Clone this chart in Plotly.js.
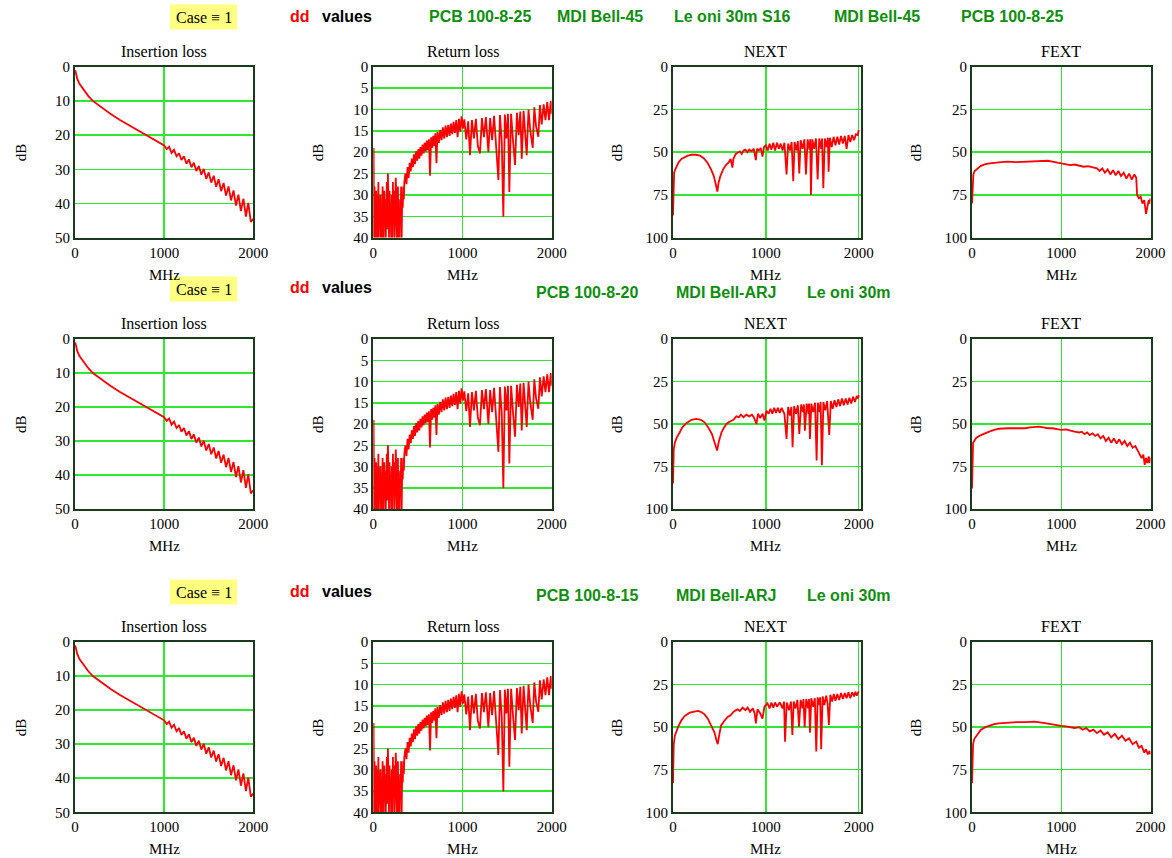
<!DOCTYPE html>
<html>
<head>
<meta charset="utf-8">
<script src="https://cdn.plot.ly/plotly-3.0.1.min.js"></script>
<style>html,body{margin:0;padding:0;background:#fff;}#chart{width:1172px;height:858px;}</style>
</head>
<body>
<div id="chart"></div>
<script>
// ---------------- DATA ----------------
const plotTitles = ['Insertion loss', 'Return loss', 'NEXT', 'FEXT'];
const yTickVals = {
  il: [0, 10, 20, 30, 40, 50],
  rl: [0, 5, 10, 15, 20, 25, 30, 35, 40],
  xt: [0, 25, 50, 75, 100]
};
const xTickVals = [0, 1000, 2000];

const rowHeaders = [
  ['PCB 100-8-25', 'MDI Bell-45', 'Le oni 30m S16', 'MDI Bell-45', 'PCB 100-8-25'],
  ['PCB 100-8-20', 'MDI Bell-ARJ', 'Le oni 30m'],
  ['PCB 100-8-15', 'MDI Bell-ARJ', 'Le oni 30m']
];

// Insertion loss (same shape in all three rows)
const ilMHz = [3,10,25,50,75,100,150,200,250,300,400,500,600,700,800,900,
  1000,1028,1056,1083,1111,1139,1167,1194,1222,1250,1278,1306,1333,1361,1389,1417,1444,1472,1500,
  1528,1556,1583,1611,1639,1667,1694,1722,1750,1778,1806,1833,1861,1889,1917,1944,1972,2000];
const ilDb = [1,2,3.5,5,6,7,8.6,10,11,12,13.8,15.5,17,18.5,20,21.5,
  23.0,24.1,23.4,25.2,24.3,26.2,25.3,27.3,26.2,28.4,27.1,29.4,28.1,30.5,29.0,31.6,29.9,32.8,30.9,
  33.9,31.9,35.1,32.9,36.4,34.0,37.7,35.0,39.1,36.2,40.6,37.4,42.2,38.6,43.8,39.8,45.4,44.5];

// Return loss (same shape in all three rows) [MHz, dB]
const rlPoints = [
  [0,40],[3,19],[6,33],[10,40],[14,28],[18,38],[22,31],[27,40],[32,29],[37,34],[42,40],[47,30],
  [52,36],[57,27],[62,40],[68,32],[74,38],[80,30],[86,40],[92,35],[98,40],[104,28],[110,34],[116,40],
  [122,29],[128,35],[134,31],[140,40],[146,33],[152,27],[158,38],[164,25],[170,31],[176,40],[182,29],
  [188,37],[194,32],[200,40],[207,30],[214,40],[220,27],[226,36],[232,29],[238,40],[245,34],[252,26],
  [258,31],[264,40],[270,33],[276,28],[282,40],[288,35],[294,40],[300,31],[306,36],[312,28],[318,40],
  [324,30],[330,33],[336,28],[342,31],[348,27],
  [360,25.0],[372,27.5],[384,23.5],[396,26.0],[408,22.5],[420,24.5],[432,21.5],[444,23.5],[456,20.5],
  [468,22.8],[480,19.8],[492,22.0],[504,19.3],[516,21.5],[528,18.8],[540,20.8],[552,18.2],[564,20.3],
  [576,17.8],[588,19.8],[600,17.3],[612,19.5],[624,17.0],[636,25.5],[648,16.5],[660,19.0],[672,16.2],
  [684,18.5],[696,15.6],[708,22.6],[720,15.3],[735,17.8],[750,14.8],[765,17.2],[780,14.2],[795,16.8],
  [810,13.8],[825,16.5],[840,13.6],[855,16.2],[870,13.3],[885,15.8],[900,12.9],[915,15.5],[930,12.5],
  [945,16.5],[960,12.2],[975,15.2],[990,11.6],[1005,14.5],
  [1020,12.3],[1042,17.0],[1064,12.8],[1084,20.7],[1106,12.5],[1128,16.8],[1150,12.2],[1172,18.5],
  [1196,20.3],[1218,12.0],[1240,16.5],[1262,11.8],[1290,20.0],[1310,12.0],[1332,17.2],[1354,11.5],
  [1376,19.0],[1402,26.5],[1420,11.3],[1440,17.5],[1458,35.1],[1475,11.2],[1492,16.8],[1510,11.0],
  [1525,29.3],[1545,11.0],[1567,17.5],[1589,23.0],[1610,10.8],[1630,16.0],[1648,10.5],[1664,21.5],
  [1685,10.3],[1705,15.8],[1720,20.7],[1740,10.0],[1760,15.0],[1787,19.0],[1805,9.5],[1825,14.0],
  [1850,16.4],[1868,9.0],[1888,13.5],[1910,8.8],[1930,12.5],[1950,8.3],[1970,12.5],[1990,8.0],[2000,11.0]
];

// NEXT [MHz, dB]
const next1Points = [
  [0,87],[3,70],[6,65],[12,62],[25,60],[40,58],[60,56],[90,54],[120,53],[160,52],[200,51.5],[245,51.5],
  [290,52],[330,53.5],[370,56],[410,60],[440,64],[465,70],[478,73],[490,68],[510,64],[540,60],[570,57.5],
  [600,56],[620,54],[640,59],[650,54],[676,51],[700,50],[720,49.5],[740,51],[760,49],[780,48.5],[800,50],
  [820,48.5],[845,49.5],[870,48],[892,54.6],[905,48],[925,49],[945,47.5],[964,52.6],[980,47],[1000,46],
  [1020,49],[1040,45],[1060,48.5],[1080,44.5],[1100,49],[1120,44.5],[1140,48],[1160,45],[1180,49],
  [1200,44.5],[1223,63],[1240,45],[1260,49],[1278,44],[1295,67],[1310,44],[1330,49],[1345,43.5],
  [1360,62.4],[1375,43],[1395,48],[1415,42.5],[1432,63],[1450,42.5],[1470,48.5],[1478,42.5],[1486,75],
  [1500,42.5],[1520,48],[1540,42],[1558,66],[1575,42],[1595,48],[1605,42],[1619,71],[1635,42],[1655,47],
  [1668,41.5],[1676,61.4],[1690,41.5],[1710,47],[1730,41],[1750,46],[1770,41],[1790,45.5],[1810,40.5],
  [1830,45],[1850,40.5],[1870,48],[1890,40],[1910,44],[1930,40],[1950,43],[1970,39.5],[1990,40],[2000,37]
];
const next2Points = [
  [0,85],[3,72],[8,65],[20,61],[40,58],[72,55],[100,52],[144,49.5],[200,47.5],[252,47],[300,47.5],
  [340,49],[380,52],[420,56],[450,61],[475,65.6],[495,60],[522,55],[550,52],[576,50],[600,49],[630,48],
  [650,47.5],[683,45.5],[710,46],[730,44.5],[760,46],[791,44.5],[820,45.5],[850,44.5],[870,46],[899,50],
  [915,44],[940,46.5],[965,44],[985,48],[1007,42.2],[1030,44],[1050,41],[1070,44],[1090,40.5],[1110,43.5],
  [1130,40.5],[1150,43.5],[1170,40.5],[1200,44],[1223,58.8],[1240,40],[1260,45],[1275,40],[1288,63.6],
  [1305,39.5],[1325,44],[1345,39],[1360,55.8],[1380,38.5],[1400,43],[1410,38.5],[1421,53.9],[1440,38],
  [1460,44],[1465,38],[1475,58.8],[1490,38],[1510,43],[1530,37.5],[1547,71.4],[1560,37.5],[1580,43],
  [1590,37],[1604,74.3],[1620,37],[1640,42],[1660,36.5],[1683,56.4],[1700,36.5],[1720,41],[1740,36],
  [1760,40],[1780,35.5],[1800,39.5],[1820,35],[1840,39],[1860,35],[1880,38.5],[1900,34.5],[1920,38],
  [1940,34],[1960,37],[1980,33.5],[1995,35],[2000,33]
];
const next3Points = [
  [0,83],[3,68],[8,60],[20,55],[54,50],[90,46],[125,43.5],[180,41.5],[230,41],[268,40.5],[300,41],
  [340,42.5],[375,45],[410,48.5],[446,53],[470,58],[482,60],[500,54],[518,49],[550,46.5],[589,44],
  [620,43],[650,41],[680,40],[696,39.5],[720,40.5],[750,38.5],[780,40],[804,38.5],[830,41],[860,39],
  [880,42],[893,47.8],[910,39.5],[940,42],[964,45],[985,38],[1000,37],[1018,36],[1040,39],[1060,35.5],
  [1080,38.5],[1100,35.5],[1120,38],[1150,35.5],[1180,39],[1196,35],[1207,58.5],[1225,35.5],[1250,40],
  [1270,35],[1286,54.6],[1300,35],[1320,39],[1340,34],[1357,49.7],[1375,34],[1395,39],[1405,33.5],
  [1418,50],[1435,33.5],[1455,39],[1465,33.5],[1475,53.2],[1490,33],[1510,38],[1528,33],[1543,64.3],
  [1558,32.5],[1575,37],[1585,32.5],[1596,62.9],[1612,32],[1630,37],[1650,31.5],[1665,36],[1679,48.7],
  [1695,31],[1715,35],[1732,30.5],[1750,34.5],[1770,30.5],[1790,34],[1810,30],[1830,33.5],[1850,30],
  [1870,33],[1890,29.5],[1910,33],[1930,29.5],[1950,32],[1964,29.2],[1980,31.5],[2000,29]
];

// FEXT [MHz, dB]
const fext1Points = [
  [0,80],[4,70],[8,64],[15,63],[30,61],[60,59.5],[100,58],[150,57],[200,56.5],[300,56],[400,55.5],
  [500,55.8],[600,55.6],[700,55.5],[800,55.3],[850,55],[900,55.5],[950,56],[1000,56.5],[1050,57],
  [1100,57.5],[1150,57.2],[1200,58],[1250,58.5],[1300,58.2],[1350,59],[1400,59.5],[1430,61],[1460,59.5],
  [1490,62],[1520,60],[1550,63],[1580,60.5],[1610,63.5],[1640,61],[1670,64],[1700,62],[1730,65.5],
  [1760,62.5],[1790,66],[1820,63],[1840,65],[1850,75],[1870,77],[1890,76],[1910,80],[1930,78],[1950,86],
  [1965,82],[1980,78],[1990,80],[2000,77]
];
const fext2Points = [
  [0,88],[3,70],[6,63],[12,61],[25,60],[50,58],[100,56.5],[150,55.3],[200,54.3],[250,53.5],[300,52.8],
  [400,52.5],[500,52.5],[600,52.5],[650,52],[700,51.7],[750,51.5],[800,52],[850,52.5],[900,52.5],
  [950,53],[1000,53.5],[1050,53.2],[1100,54],[1150,54.5],[1200,55],[1230,54.5],[1260,56],[1290,55],
  [1320,56.5],[1350,55.5],[1380,57],[1410,56],[1440,58.5],[1470,57],[1500,60],[1530,58],[1560,61],
  [1590,58.5],[1620,61.5],[1650,59],[1680,62],[1710,60],[1740,63],[1770,61],[1800,64],[1830,63],
  [1860,66],[1880,68],[1900,70],[1920,68],[1935,74],[1950,70],[1965,73],[1980,69],[1990,73],[2000,70]
];
const fext3Points = [
  [0,83],[3,68],[6,63],[12,60],[25,57],[50,55],[75,53],[100,51.5],[150,50],[200,49],[250,48.2],
  [300,47.8],[400,47.2],[500,47],[600,47],[700,46.8],[800,47.5],[900,48.5],[1000,49.3],[1050,49.5],
  [1100,49.8],[1150,50.5],[1200,50],[1240,51.5],[1280,50.5],[1320,52.5],[1360,51.5],[1400,53.5],
  [1440,52],[1480,54.5],[1520,53],[1560,56],[1600,54],[1640,57],[1680,55],[1720,58],[1760,56.5],
  [1800,60],[1840,58.5],[1870,62],[1900,61],[1930,65],[1950,63],[1970,66],[1990,64],[2000,66]
];

// ---------------- LAYOUT / DRAWING ----------------
const W = 1172, H = 858;
const fx = p => p / W;
const fy = p => 1 - p / H;

const colBox = [ [75, 253.3], [373.3, 551.7], [673, 861], [972, 1150.5] ];
const rowBox = [ [66.7, 237.7], [339, 509], [642, 812.3] ];
const colXMax = [2000, 2000, 2025, 2000];
const colYMax = [50, 40, 100, 100];
const colYTicks = [yTickVals.il, yTickVals.rl, yTickVals.xt, yTickVals.xt];
const dbLabelX = [21, 318, 617, 916];

const rowData = [
  [[ilMHz, ilDb], rlPoints, next1Points, fext1Points],
  [[ilMHz, ilDb], rlPoints, next2Points, fext2Points],
  [[ilMHz, ilDb], rlPoints, next3Points, fext3Points]
];

const serif = 'Liberation Serif, Times New Roman, serif';
const sans = 'Liberation Sans, Arial, sans-serif';
const gridColor = '#2fe82f';
const frameColor = '#1b3a1b';
const green = '#0e8f0e';

const traces = [];
const layout = {
  width: W, height: H,
  margin: {l: 0, r: 0, t: 0, b: 0},
  paper_bgcolor: '#ffffff', plot_bgcolor: '#ffffff',
  showlegend: false,
  annotations: [], shapes: []
};

for (let r = 0; r < 3; r++) {
  for (let c = 0; c < 4; c++) {
    const k = r * 4 + c + 1;
    const xn = 'xaxis' + (k === 1 ? '' : k), yn = 'yaxis' + (k === 1 ? '' : k);
    const xr = 'x' + (k === 1 ? '' : k), yr = 'y' + (k === 1 ? '' : k);
    const d = rowData[r][c];
    let xs, ys;
    if (c === 0) { xs = d[0]; ys = d[1]; }
    else { xs = d.map(p => p[0]); ys = d.map(p => p[1]); }
    traces.push({
      x: xs, y: ys, xaxis: xr, yaxis: yr, type: 'scatter', mode: 'lines',
      line: {color: '#ff0000', width: 1.8}, hoverinfo: 'skip'
    });
    const common = {
      showgrid: true, gridcolor: gridColor, gridwidth: 1.5,
      showline: true, mirror: true, linecolor: frameColor, linewidth: 2,
      zeroline: false, ticks: '', fixedrange: true,
      tickfont: {family: serif, size: 15, color: '#000'}
    };
    layout[xn] = Object.assign({}, common, {
      domain: [fx(colBox[c][0]), fx(colBox[c][1])],
      range: [0, colXMax[c]], anchor: yr,
      tickmode: 'array', tickvals: xTickVals, ticktext: xTickVals.map(String)
    });
    layout[yn] = Object.assign({}, common, {
      domain: [fy(rowBox[r][1]), fy(rowBox[r][0])],
      range: [colYMax[c], 0], anchor: xr,
      tickmode: 'array', tickvals: colYTicks[c], ticktext: colYTicks[c].map(String)
    });
    const cx = (colBox[c][0] + colBox[c][1]) / 2;
    const cxTitle = c === 2 ? (colBox[c][0] + (1000 / colXMax[c]) * (colBox[c][1] - colBox[c][0])) : cx;
    // subplot title
    layout.annotations.push({
      xref: 'paper', yref: 'paper', x: fx(cxTitle), y: fy(rowBox[r][0] - 15.5),
      xanchor: 'center', yanchor: 'middle', showarrow: false,
      text: plotTitles[c], font: {family: serif, size: 16, color: '#000'}
    });
    // x-axis title
    layout.annotations.push({
      xref: 'paper', yref: 'paper', x: fx(cxTitle), y: fy(rowBox[r][1] + 37),
      xanchor: 'center', yanchor: 'middle', showarrow: false,
      text: 'MHz', font: {family: serif, size: 15, color: '#000'}
    });
    // y-axis title
    layout.annotations.push({
      xref: 'paper', yref: 'paper', x: fx(dbLabelX[c]), y: fy((rowBox[r][0] + rowBox[r][1]) / 2),
      xanchor: 'center', yanchor: 'middle', showarrow: false, textangle: -90,
      text: 'dB', font: {family: serif, size: 15, color: '#000'}
    });
  }
}

// Header lines
const headerY = [17, 289, 592];
const greenY = [17, 293, 596];
const greenLeft = [
  [428, 556, 673, 833, 960],
  [535, 675, 806],
  [535, 675, 806]
];
for (let r = 0; r < 3; r++) {
  const y = headerY[r];
  layout.shapes.push({
    type: 'rect', xref: 'paper', yref: 'paper', layer: 'below',
    x0: fx(170), x1: fx(237), y0: fy(y + 12.5), y1: fy(y - 12.5),
    fillcolor: '#ffff80', line: {width: 0}
  });
  layout.annotations.push({
    xref: 'paper', yref: 'paper', x: fx(203.5), y: fy(y), xanchor: 'center', yanchor: 'middle',
    showarrow: false, text: 'Case \u2261 1', font: {family: serif, size: 16, color: '#000'}
  });
  layout.annotations.push({
    xref: 'paper', yref: 'paper', x: fx(288), y: fy(y - 1), xanchor: 'left', yanchor: 'middle',
    showarrow: false, text: '<b>dd</b>', font: {family: sans, size: 16, color: '#ff0000'}
  });
  layout.annotations.push({
    xref: 'paper', yref: 'paper', x: fx(320), y: fy(y - 1), xanchor: 'left', yanchor: 'middle',
    showarrow: false, text: '<b>values</b>', font: {family: sans, size: 16, color: '#000'}
  });
  rowHeaders[r].forEach((t, i) => {
    layout.annotations.push({
      xref: 'paper', yref: 'paper', x: fx(greenLeft[r][i] - 1), y: fy(greenY[r] - 1),
      xanchor: 'left', yanchor: 'middle', showarrow: false,
      text: '<b>' + t + '</b>', font: {family: sans, size: 16, color: green}
    });
  });
}

Plotly.newPlot('chart', traces, layout, {staticPlot: true, displayModeBar: false});
</script>
</body>
</html>
